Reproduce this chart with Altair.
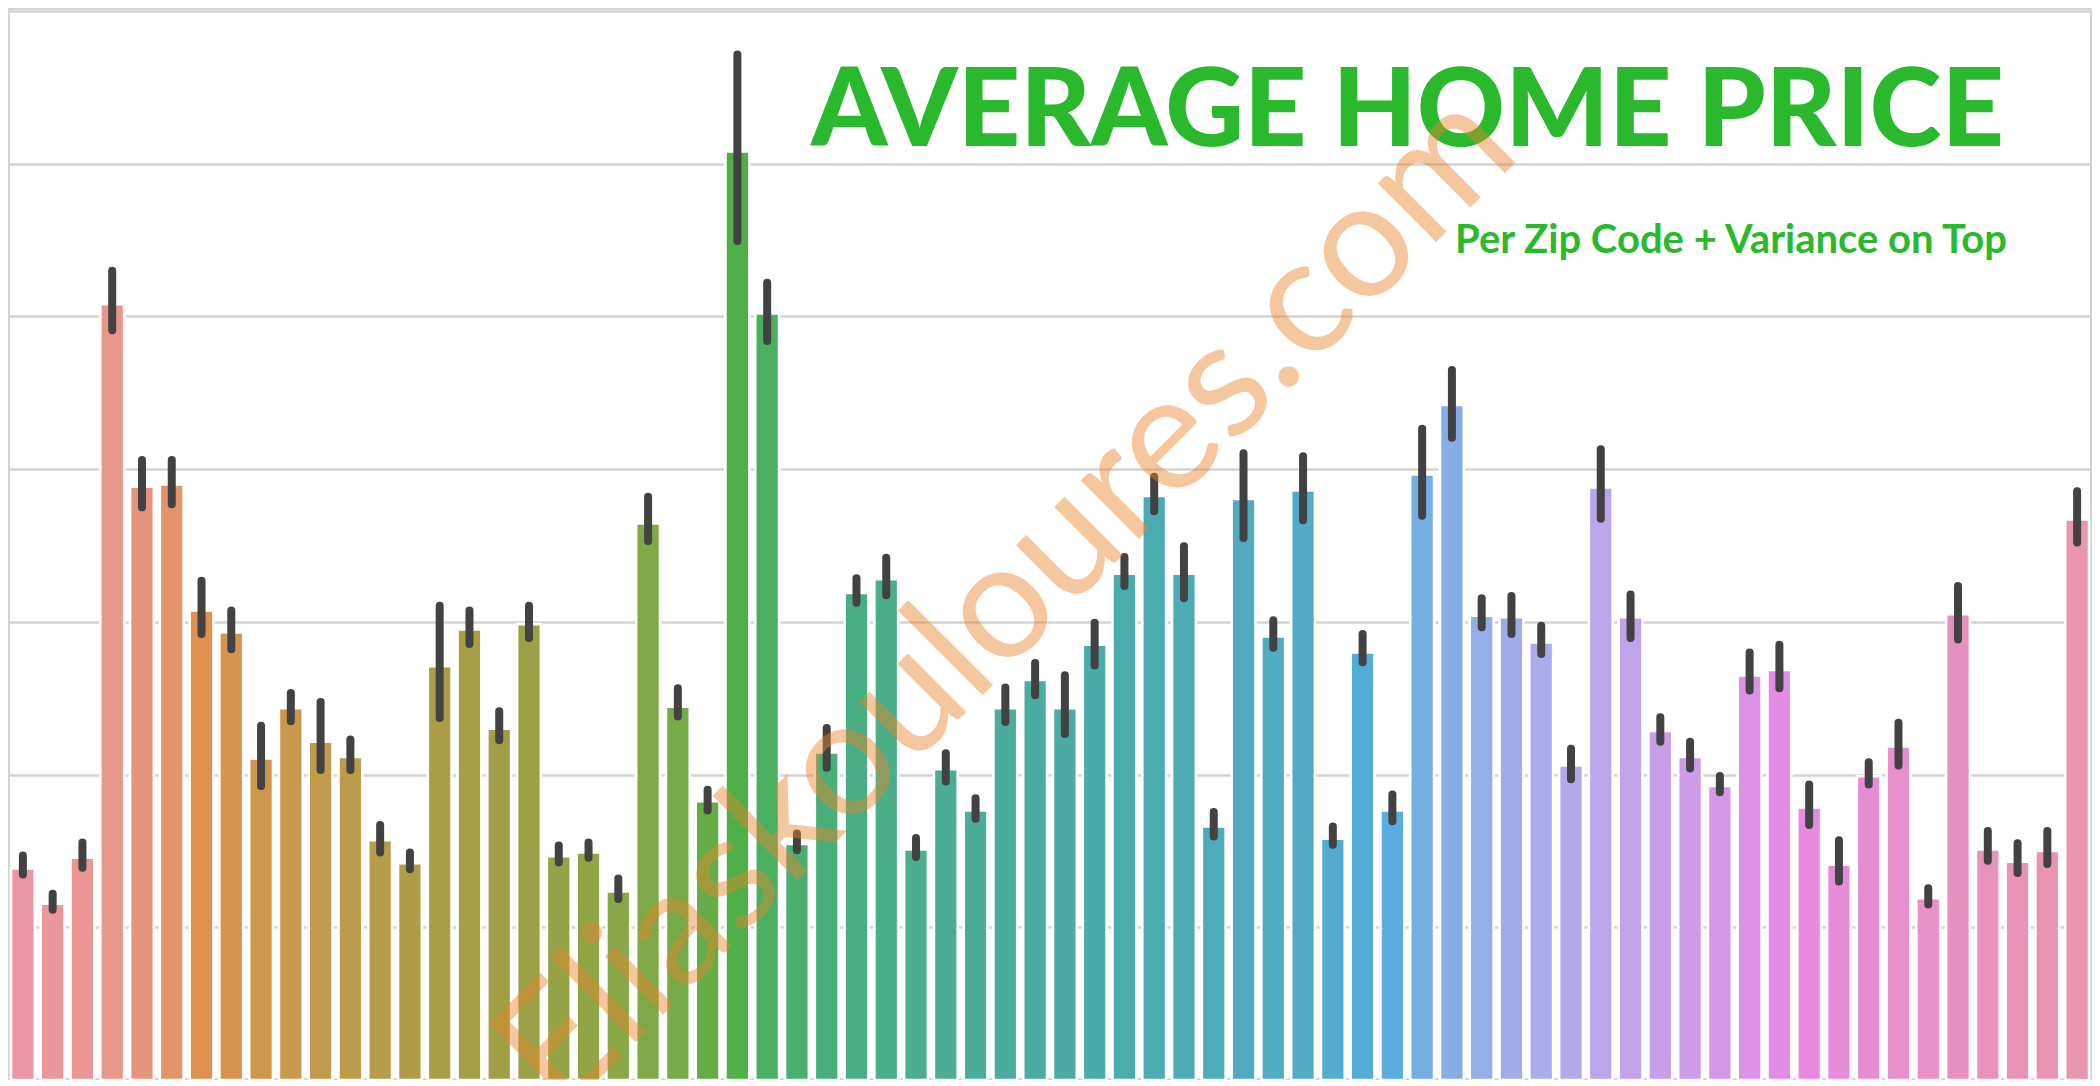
import math
import colorsys
import numpy as np
import pandas as pd
import altair as alt

# ---------------- data ----------------
ZIPS = [98001, 98002, 98003, 98004, 98005, 98006, 98007, 98008, 98010, 98011,
        98014, 98019, 98022, 98023, 98024, 98027, 98028, 98029, 98030, 98031,
        98032, 98033, 98034, 98038, 98039, 98040, 98042, 98045, 98052, 98053,
        98055, 98056, 98058, 98059, 98065, 98070, 98072, 98074, 98075, 98077,
        98092, 98102, 98103, 98105, 98106, 98107, 98108, 98109, 98112, 98115,
        98116, 98117, 98118, 98119, 98122, 98125, 98126, 98133, 98136, 98144,
        98146, 98148, 98155, 98166, 98168, 98177, 98178, 98188, 98198, 98199]

# mean price per zip code, in thousands of dollars
MEAN_K = [277, 231, 291, 1016, 777, 780, 615, 586, 421, 487,
          443, 423, 314, 284, 542, 590, 460, 597, 293, 298,
          247, 729, 489, 365, 1216, 1004, 309, 429, 638, 656,
          302, 407, 353, 487, 524, 487, 570, 663, 765, 663,
          332, 761, 581, 772, 316, 560, 353, 793, 884, 608,
          606, 573, 412, 776, 606, 457, 423, 385, 530, 537,
          357, 282, 398, 437, 238, 610, 302, 286, 300, 734]

# lower / upper end of the error bar, in thousands of dollars
LO_K = [269, 223, 278, 982, 750, 754, 584, 564, 385, 470,
        406, 406, 298, 276, 474, 571, 445, 579, 285, 291,
        237, 706, 476, 353, 1099, 968, 301, 409, 625, 635,
        292, 391, 342, 469, 504, 453, 543, 647, 745, 631,
        319, 710, 566, 733, 308, 547, 339, 739, 841, 593,
        584, 558, 394, 735, 579, 443, 408, 377, 510, 513,
        334, 260, 387, 412, 230, 577, 287, 271, 283, 704]

HI_K = [294, 244, 311, 1060, 812, 812, 654, 615, 464, 507,
        495, 446, 334, 298, 621, 615, 483, 621, 307, 311,
        264, 764, 513, 380, 1343, 1044, 323, 461, 657, 684,
        317, 428, 369, 514, 546, 530, 599, 685, 790, 699,
        351, 821, 602, 817, 332, 584, 374, 853, 930, 631,
        634, 595, 434, 826, 636, 475, 443, 398, 560, 570,
        387, 314, 416, 468, 251, 647, 326, 310, 326, 771]

GRID_VALUES = [200000, 400000, 600000, 800000, 1000000, 1200000, 1400000]

TITLE = "AVERAGE HOME PRICE"
SUBTITLE = "Per Zip Code + Variance on Top"
WATERMARK = "Eliaskouloures.com"

# ---------------- seaborn-like husl palette ----------------
_M = [[3.2406, -1.5372, -0.4986],
      [-0.9689, 1.8758, 0.0415],
      [0.0557, -0.2040, 1.0570]]
_REF_U = 0.19784
_REF_V = 0.46834


def _max_chroma(L, H):
    hrad = math.radians(H)
    sinH, cosH = math.sin(hrad), math.cos(hrad)
    sub1 = math.pow(L + 16, 3.0) / 1560896.0
    sub2 = sub1 if sub1 > 0.008856 else (L / 903.3)
    result = float("inf")
    for m1, m2, m3 in _M:
        top = (0.99915 * m1 + 1.05122 * m2 + 1.14460 * m3) * sub2
        rbottom = 0.86330 * m3 - 0.17266 * m2
        lbottom = 0.12949 * m3 - 0.38848 * m1
        bottom = (rbottom * sinH + lbottom * cosH) * sub2
        for t in (0.0, 1.0):
            C = L * (top - 1.05122 * t) / (bottom + 0.17266 * sinH * t)
            if 0.0 < C < result:
                result = C
    return result


def _f_inv(t):
    return t ** 3 if t ** 3 > 0.008856 else (116.0 * t - 16.0) / 903.3


def _from_linear(c):
    return 12.92 * c if c <= 0.0031308 else 1.055 * math.pow(c, 1 / 2.4) - 0.055


def husl_to_rgb(h, s, l):
    C = _max_chroma(l, h) / 100.0 * s
    hrad = math.radians(h)
    U, V = math.cos(hrad) * C, math.sin(hrad) * C
    varY = _f_inv((l + 16.0) / 116.0)
    varU = U / (13.0 * l) + _REF_U
    varV = V / (13.0 * l) + _REF_V
    Y = varY
    X = 0.0 - (9.0 * Y * varU) / ((varU - 4.0) * varV - varU * varV)
    Z = (9.0 * Y - (15.0 * varV * Y) - (varV * X)) / (3.0 * varV)
    rgb = [_from_linear(r[0] * X + r[1] * Y + r[2] * Z) for r in _M]
    return [min(1.0, max(0.0, c)) for c in rgb]


def seaborn_bar_colors(n, h=.01, s=.9, l=.7, sat=.75):
    hues = np.linspace(0, 1, n + 1)[:-1]
    hues = ((hues + h) % 1) * 359
    out = []
    for hh in hues:
        r, g, b = husl_to_rgb(hh, s * 99, l * 99)
        hu, li, sa = colorsys.rgb_to_hls(r, g, b)
        r, g, b = colorsys.hls_to_rgb(hu, li, sa * sat)
        out.append("#%02x%02x%02x" % (round(r * 255), round(g * 255), round(b * 255)))
    return out


zip_labels = [str(z) for z in ZIPS]
colors = seaborn_bar_colors(len(ZIPS))

df = pd.DataFrame({
    "zip": zip_labels,
    "mean": [v * 1000 for v in MEAN_K],
    "lo": [v * 1000 for v in LO_K],
    "hi": [v * 1000 for v in HI_K],
})

W, H = 2084, 1072
GRID = "#d3d3d3"
y_scale = alt.Scale(domain=[0, 1404000], nice=False, zero=True)
y_axis = alt.Axis(values=GRID_VALUES, labels=False, ticks=False,
                  domain=False, title="", grid=True,
                  gridColor=GRID, gridWidth=2.5)
x_enc = alt.X("zip:N", sort=zip_labels, axis=None,
              scale=alt.Scale(paddingInner=0.2, paddingOuter=0.1))

bars = alt.Chart(df).mark_bar(stroke="white", strokeWidth=2.6).encode(
    x=x_enc,
    y=alt.Y("mean:Q", scale=y_scale, axis=y_axis),
    color=alt.Color("zip:N", scale=alt.Scale(domain=zip_labels, range=colors),
                    legend=None),
)

err = alt.Chart(df).mark_rule(color="#424242", strokeWidth=8,
                              strokeCap="round").encode(
    x=x_enc,
    y=alt.Y("lo:Q", scale=y_scale, axis=y_axis),
    y2="hi:Q",
)

title = alt.Chart(pd.DataFrame({"t": [TITLE]})).mark_text(
    align="right", baseline="alphabetic", font="Lato", fontWeight=900,
    fontSize=109, color="#2ab92c",
).encode(text="t:N", x=alt.value(1996), y=alt.value(138))

subtitle = alt.Chart(pd.DataFrame({"t": [SUBTITLE]})).mark_text(
    align="right", baseline="alphabetic", font="Lato", fontWeight=700,
    fontSize=40, color="#2ab92c",
).encode(text="t:N", x=alt.value(1999), y=alt.value(245))

watermark = alt.Chart(pd.DataFrame({"t": [WATERMARK]})).mark_text(
    align="center", baseline="alphabetic", font="Lato", fontWeight=400,
    fontSize=163, color="#e7852c", opacity=0.45, angle=315,
).encode(text="t:N", x=alt.value(1034), y=alt.value(628))

chart = alt.layer(bars, err, title, subtitle, watermark).properties(
    width=W, height=H, padding=0,
    autosize=alt.AutoSizeParams(type="none"),
).configure_view(stroke=GRID, strokeWidth=4)

chart.save("out.html", embed_options={"renderer": "svg", "actions": False})
